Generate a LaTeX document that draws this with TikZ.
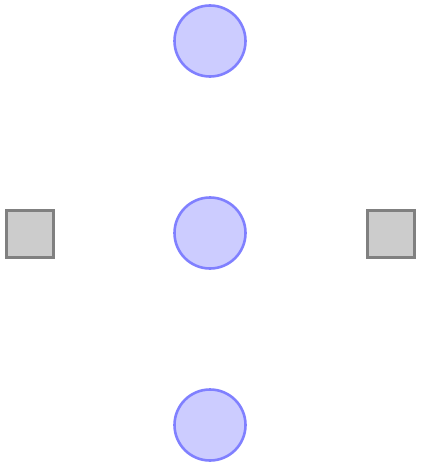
\documentclass[tikz,border=0pt]{standalone}
\begin{document}
\begin{tikzpicture}[x=1pt,y=-1pt,
  place/.style={circle,draw=blue!50,fill=blue!20,line width=2.6pt,minimum size=71pt,inner sep=0pt},
  transition/.style={rectangle,draw=black!50,fill=black!20,line width=3pt,minimum size=47pt,inner sep=0pt}]
\useasboundingbox (0,0) rectangle (420,468);
\node[place] (p1) at (210,41) {};
\node[place] (p2) at (210,233) {};
\node[place] (p3) at (210,425) {};
\node[transition] (t1) at (29.5,233.5) {};
\node[transition] (t2) at (390.5,233.5) {};
\end{tikzpicture}
\end{document}
